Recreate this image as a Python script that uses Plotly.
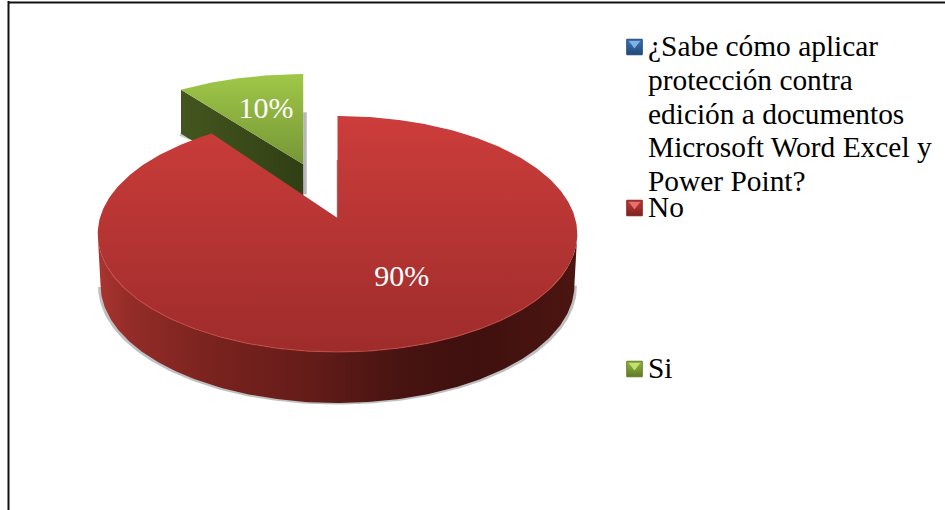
import numpy as np
import plotly.graph_objects as go

# ---- data ----
categories = ["¿Sabe cómo aplicar protección contra edición a documentos Microsoft Word Excel y Power Point?", "No", "Si"]
values = [0, 90, 10]
legend_lines = [["¿Sabe cómo aplicar", "protección contra", "edición a documentos", "Microsoft Word Excel y", "Power Point?"], ["No"], ["Si"]]

# ---- projection of the tilted pie (pixel axes) ----
CX, CY, A, B, K = 337.5, 218, 237.6, 115.8, 0.1356
DEPTH = 51
SERIF = "Liberation Serif"


def project(theta, r=1.0, ox=0.0, oy=0.0, drop=0.0):
    """Clockwise-from-top angle on the unit disc -> axis position."""
    X = r * np.sin(theta) + ox
    Y = -r * np.cos(theta) + oy
    w = 1 - K * Y
    scale = 1 - 0.012 * (drop / DEPTH)
    return CX + scale * A * X / w, CY + B * Y / w + drop


total = sum(values)
cum = np.cumsum([0] + values) / total * 2 * np.pi
start = dict(zip(categories, cum[:-1]))
stop = dict(zip(categories, cum[1:]))
no, si = categories[1], categories[2]

fig = go.Figure()


def poly(x, y, grad=None, color=None, name=None, opacity=None):
    kw = {}
    if grad:
        kw["fillgradient"] = dict(type=grad[0], start=grad[1], stop=grad[2],
                                  colorscale=grad[3])
    else:
        kw["fillcolor"] = color
    fig.add_trace(go.Scatter(x=x, y=y, mode="lines", fill="toself", line=dict(width=0),
                             hoverinfo="skip", showlegend=False, name=name,
                             opacity=opacity, **kw))


# ---- exploded "Si" slice ----
th_si = np.linspace(start[si], stop[si], 40)
mid_si = (start[si] + stop[si]) / 2
EXPLODE = 0.52
ox, oy = EXPLODE * np.sin(mid_si), -EXPLODE * np.cos(mid_si)
ax, ay = project(0.0, 0.0, ox, oy)
ax += 1.5


def project_si(theta, r=1.0):
    # the cut edge of this slice stays vertical on the page
    X = r * np.sin(theta)
    Y = -r * np.cos(theta) + oy
    w = 1 - K * Y
    return ax + 1.03 * A * X / w, CY + B * Y / w


rx, ry = project_si(th_si)
lx, ly = project_si(start[si])
SI_DEPTH = 44
# shadows beside the slice
poly([ax, ax + 3.5, ax + 3.5, ax], [ay - 52, ay - 52, ay + SI_DEPTH - 14, ay + SI_DEPTH - 14],
     color="rgba(120,125,130,0.55)", name="Si sombra")
poly([lx, lx + 12, lx + 8, lx - 1.5], [ly + SI_DEPTH - 2, ly + SI_DEPTH + 4, ly + SI_DEPTH + 6, ly + SI_DEPTH + 2],
     color="rgba(120,125,130,0.4)", name="Si sombra 2")
# cut wall
poly([lx, ax, ax, lx], [ly, ay, ay + SI_DEPTH, ly + SI_DEPTH],
     grad=("horizontal", float(lx), float(ax), [[0, "#44561F"], [1, "#303F14"]]), name="Si pared")
# top face
poly(np.r_[ax, rx, ax], np.r_[ay, ry, ay],
     grad=("vertical", float(ry.min()), float(ay), [[0, "#A0C748"], [1, "#769636"]]), name=si)

# ---- "No" slice ----
th = np.linspace(start[no], stop[no], 400)
tx, ty = project(th)
i_r, i_l = np.argmax(tx), np.argmin(tx)
front = th[i_r:i_l + 1]
fx, fy = project(front)
bx, by = project(front, drop=DEPTH)
# soft ground shadow, only along the lower part of the rim
low = by > fy[0] + 40
poly((bx + np.sign(bx - CX) * 2.5)[low], (by + 1.5)[low], color="rgba(110,115,120,0.45)", name="No sombra")
# rim
poly(np.r_[fx, bx[::-1]], np.r_[fy, by[::-1]],
     grad=("horizontal", 100.0, 578.0,
           [[0, "#A83430"], [0.06, "#942C28"], [0.22, "#7B231F"], [0.44, "#641C19"], [0.62, "#481411"],
            [0.78, "#3F100E"], [1, "#4C1511"]]), name="No pared")
# notch shadow
nx, ny = project(0.0, 0.0)
fig.add_trace(go.Scatter(x=[nx, nx], y=[ny - 58, ny], mode="lines", hoverinfo="skip", showlegend=False,
                         line=dict(color="rgba(90,90,90,0.7)", width=1.5)))
# top face
poly(np.r_[nx, tx, nx], np.r_[ny, ty, ny],
     grad=("vertical", float(ty.min()), float(ty.max()), [[0, "#CC3D3B"], [1, "#9E2C2B"]]), name=no)
# highlight along the front edge
fig.add_trace(go.Scatter(x=fx[20:-20], y=fy[20:-20], mode="lines", hoverinfo="skip", showlegend=False,
                         line=dict(color="rgba(214,80,70,0.6)", width=1.2)))

# ---- percentage labels ----
pct = [f"{round(v / total * 100)}%" for v in values]
lab_si = project_si(mid_si, 0.6)
lab_no = project((start[no] + stop[no]) / 2, 0.5)
fig.add_trace(go.Scatter(x=[lab_no[0] + 25, lab_si[0] + 2.5], y=[lab_no[1] + 1.5, lab_si[1]], mode="text",
                         text=[pct[1], pct[2]], textposition="middle center", hoverinfo="skip",
                         showlegend=False, textfont=dict(family=SERIF, size=30, color="white")))

# ---- legend ----
LEG_X, LEG_TEXT = 634.5, 646
leg_y = [47, 208, 369]
swatch = [("#3D74B5", "#7FB2E6", "#1F4A78"), ("#C43A37", "#E8706A", "#7E2220"), ("#93B840", "#C2E070", "#5F7A26")]
for yy, col, name in zip(leg_y, swatch, categories):
    fig.add_trace(go.Scatter(x=[LEG_X], y=[yy], mode="markers", hoverinfo="skip", showlegend=False, name=name,
                             marker=dict(symbol="square", size=15.5, color=col[0],
                                         gradient=dict(type="vertical", color=col[2]),
                                         line=dict(width=1, color=col[2]))))
    fig.add_trace(go.Scatter(x=[LEG_X], y=[yy - 3.5], mode="markers", hoverinfo="skip", showlegend=False,
                             marker=dict(symbol="triangle-down", size=10, color=col[1], line=dict(width=0))))

annotations = []
LINE = 33.8
for yy, lines in zip(leg_y, legend_lines):
    for n, text in enumerate(lines):
        annotations.append(dict(x=LEG_TEXT, y=yy - 1 + n * LINE, text=text, xref="x", yref="y",
                                xanchor="left", yanchor="middle", showarrow=False,
                                font=dict(family=SERIF, size=29.4, color="#000000")))

# ---- frame ----
shapes = [
    dict(type="line", xref="x", yref="y", x0=8.5, x1=8.5, y0=1, y1=510, line=dict(color="#111111", width=2)),
    dict(type="line", xref="x", yref="y", x0=8, x1=945, y0=2.5, y1=2.5, line=dict(color="#111111", width=2)),
]

fig.update_layout(
    width=945, height=510, margin=dict(l=0, r=0, t=0, b=0),
    paper_bgcolor="white", plot_bgcolor="white", showlegend=False,
    xaxis=dict(range=[0, 945], visible=False, fixedrange=True),
    yaxis=dict(range=[510, 0], visible=False, fixedrange=True),
    annotations=annotations, shapes=shapes,
)
fig.write_html("out.html", config={"displayModeBar": False},
               post_script="document.body.style.margin='0';document.body.style.overflow='hidden';")
